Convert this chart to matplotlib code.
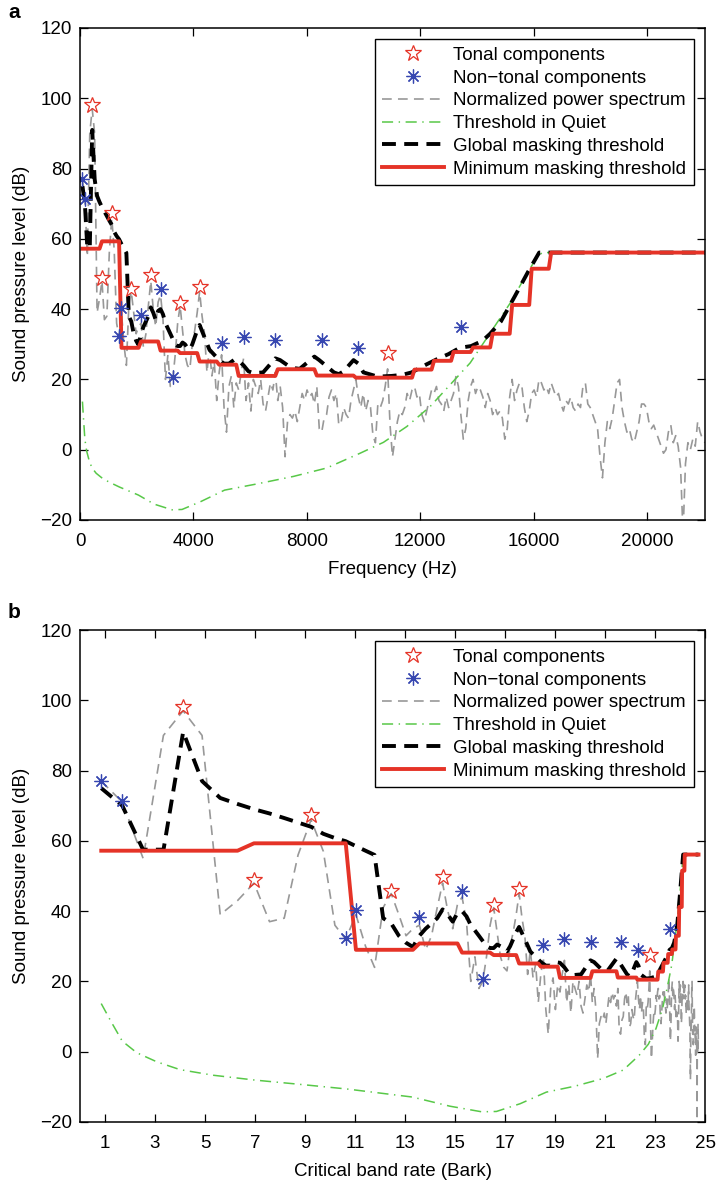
import numpy as np
import matplotlib
matplotlib.use('Agg')
import matplotlib.pyplot as plt
from matplotlib.lines import Line2D

plt.rcParams['font.family'] = ['Liberation Sans', 'DejaVu Sans']
plt.rcParams['font.size'] = 13.5
plt.rcParams['lines.scale_dashes'] = False

# normalized power spectrum (dB) for FFT bins 1..256 (512-pt FFT at 44.1 kHz)
spectrum_db = [
    77, 71, 55, 90, 97, 90, 39, 43, 48, 37, 38, 56, 66, 57, 36, 32,
    39, 30, 24, 41, 45, 39, 33, 35, 36, 29, 33, 41, 48, 40, 35, 42,
    44, 37, 20, 27, 18, 20, 27, 36, 41, 34, 27, 24, 23, 30, 34, 39,
    45, 38, 33, 22, 29, 21, 25, 14, 22, 27, 12, 5, 18, 21, 12, 19,
    17, 22, 26, 14, 19, 11, 20, 18, 16, 20, 13, 11, 15, 19, 17, 22,
    14, 18, 12, -2, 8, 10, 9, 11, 8, 12, 16, 14, 17, 15, 16, 13,
    18, 6, 5, 9, 10, 15, 17, 14, 16, 7, 8, 12, 10, 9, 14, 17,
    20, 15, 12, 16, 11, 14, 12, 4, 2, 13, 12, 14, 18, 23, 7, -2,
    3, 8, 11, 10, 12, 16, 14, 17, 18, 15, 16, 10, 8, 11, 14, 17,
    16, 18, 14, 13, 11, 15, 12, 14, 16, 21, 18, 10, 3, 6, 14, 18,
    20, 16, 18, 17, 15, 12, 16, 14, 10, 12, 10, 11, 9, 3, 6, 15,
    20, 14, 17, 19, 18, 12, 8, 11, 16, 17, 15, 20, 19, 17, 18, 16,
    19, 17, 15, 16, 13, 11, 14, 13, 15, 12, 11, 13, 12, 18, 19, 13,
    12, 10, 8, 6, -2, -8, 2, 8, 6, 9, 14, 19, 20, 12, 8, 5,
    6, 3, 2, 5, 8, 13, 13, 12, 8, 6, 7, 5, 3, 1, -1, 0,
    5, 7, 2, 4, 1, -5, -24, -4, 2, 0, 3, 1, 8, 5, 3, 2,
]
bin_hz = np.arange(1, len(spectrum_db) + 1) * 44100 / 512

tonal_hz = [431, 775, 1120, 1809, 2498, 3531, 4220, 10852]
tonal_db = [98, 49, 67.3, 45.7, 49.7, 41.8, 46.3, 27.6]

nontonal_hz = [86, 172, 1378, 1464, 2153, 2842, 3273, 4995, 5771, 6890, 8527, 9819, 13436]
nontonal_db = [77.1, 71.3, 32.3, 40.3, 38.3, 45.8, 20.6, 30.3, 32.1, 31.2, 31.1, 29.0, 34.8]

quiet_hz = [86, 129, 172, 232, 317, 417, 570, 785, 1025, 1386, 2060, 2620, 3250, 3600,
            4250, 5100, 6200, 7530, 8706, 9882, 10706, 11530, 12353, 13059, 13765,
            14470, 15176, 15647, 16059, 16300, 22050]
quiet_db = [13.7, 8.2, 3.0, -0.3, -2.9, -5.1, -6.7, -8.1, -9.2, -10.6, -12.9, -15.5, -17.1, -17.0,
            -14.8, -11.5, -9.8, -7.6, -5.2, -1.0, 2.1, 6.6, 12.3, 18.5, 24.7,
            33.2, 41.7, 48.4, 54.0, 56.1, 56.1]

global_hz = [86, 172, 258, 345, 431, 517, 603, 689, 775, 861, 947, 1034, 1120, 1206, 1292,
             1378, 1464, 1550, 1636, 1723, 1809, 1895, 1981, 2067, 2153, 2239, 2326, 2412,
             2498, 2584, 2670, 2756, 2842, 2929, 3015, 3101, 3187, 3273, 3359, 3445, 3531,
             3618, 3704, 3790, 3876, 3962, 4048, 4134, 4220, 4393, 4565, 4737, 4910, 5082,
             5254, 5426, 5599, 5771, 5943, 6115, 6460, 6890, 7060, 7400, 7580, 7750, 8270,
             8440, 8960, 9130, 9300, 9650, 9820, 10000, 10500, 11000, 11370, 11700, 12230,
             12580, 13000, 13400, 13800, 14200, 14470, 14850, 15350, 15800, 16200, 22050]
global_db = [75, 70, 57.5, 57.5, 91, 77, 72.2, 70.5, 69, 67.8, 66.5, 65.2, 64, 62, 60.8,
             59.9, 58.5, 57.2, 56, 38, 36.5, 33, 31, 29.8, 33, 35, 36.5, 38,
             40.5, 39, 37, 39.5, 40, 38.5, 36, 34.5, 33, 31.5, 30, 29.5, 29.5,
             30.5, 30, 29, 28.5, 30, 32, 34, 35.5, 32, 28.5, 27, 25.5, 24.5,
             24.5, 25.5, 25.3, 24, 22.3, 21.8, 22, 26, 25.5, 23.6, 23.2, 23.0, 26.5,
             25.5, 22, 21.5, 22.3, 25.5, 24.5, 22, 20.8, 21, 21.3, 22, 24.3,
             25.7, 27.2, 29, 29.5, 31, 33, 36.5, 43.8, 50.5, 56.1, 56.1]

# minimum masking threshold, one value per subband (32 subbands x 8 bins)
min_mask_db = [57.2, 59.3, 29.0, 30.8, 28.2, 27.5, 25.1, 24.2, 21.0, 21.0, 22.9, 22.9,
               21.1, 21.1, 20.5, 20.5, 20.5, 22.8, 25.3, 27.8, 29.1, 33.0, 41.2, 51.5,
               56.1, 56.1, 56.1, 56.1, 56.1, 56.1, 56.1, 56.1]
min_mask_bins = np.repeat(min_mask_db, 8)


def hz_to_bark(f):
    f = np.asarray(f, dtype=float)
    return 13 * np.arctan(0.00076 * f) + 3.5 * np.arctan((f / 7500.0) ** 2)


RED = '#e53327'
BLUE = '#3646b0'
GRAY = '#989898'
GREEN = '#58c848'


def draw(ax, conv):
    ax.plot(conv(bin_hz), spectrum_db, color=GRAY, lw=1.2, dashes=(7, 4.5))
    ax.plot(conv(quiet_hz), quiet_db, color=GREEN, lw=1.1, dashes=(8, 4, 1, 4))
    ax.plot(conv(global_hz), global_db, color='black', lw=2.8, dashes=(10, 6))
    ax.plot(conv(bin_hz), min_mask_bins, color=RED, lw=2.8)
    ax.plot(conv(tonal_hz), tonal_db, ls='none', marker='*', ms=12, mfc='none',
            mec=RED, mew=0.9)
    ax.plot(conv(nontonal_hz), nontonal_db, ls='none', marker=(8, 2, 0), ms=10,
            mec=BLUE, mew=0.9)
    ax.set_ylim(-20, 120)
    ax.set_yticks(np.arange(-20, 121, 20))
    ax.tick_params(direction='in', top=True, right=True, length=6, width=0.9)
    ax.tick_params(axis='x', pad=9)
    ax.tick_params(axis='y', pad=6)
    for s in ax.spines.values():
        s.set_linewidth(1.1)
    ax.set_ylabel('Sound pressure level (dB)', labelpad=7)

    handles = [
        Line2D([], [], ls='none', marker='*', ms=12, mfc='none', mec=RED, mew=0.9),
        Line2D([], [], ls='none', marker=(8, 2, 0), ms=10, mec=BLUE, mew=0.9),
        Line2D([], [], color=GRAY, lw=1.2, dashes=(7, 4.5)),
        Line2D([], [], color=GREEN, lw=1.1, dashes=(8, 4, 1, 4)),
        Line2D([], [], color='black', lw=2.8, dashes=(10, 6)),
        Line2D([], [], color=RED, lw=2.8),
    ]
    labels = ['Tonal components', 'Non\u2212tonal components', 'Normalized power spectrum',
              'Threshold in Quiet', 'Global masking threshold', 'Minimum masking threshold']
    leg = ax.legend(handles, labels, loc='upper right', fancybox=False, framealpha=1,
                    edgecolor='black', handlelength=3.3, handletextpad=0.5,
                    labelspacing=0.3, borderpad=0.4, borderaxespad=0.6, numpoints=1)
    leg.get_frame().set_linewidth(1.0)


fig = plt.figure(figsize=(7.17, 11.85), dpi=100)

ax1 = fig.add_axes([80 / 717, 1 - 520 / 1185, 625 / 717, 492 / 1185])
draw(ax1, lambda f: np.asarray(f, dtype=float))
ax1.set_xlim(0, 22050)
ax1.set_xticks([0, 4000, 8000, 12000, 16000, 20000])
ax1.set_xlabel('Frequency (Hz)', labelpad=8)

ax2 = fig.add_axes([80 / 717, 1 - 1122 / 1185, 625 / 717, 492 / 1185])
draw(ax2, hz_to_bark)
ax2.set_xlim(0, 25)
ax2.set_xticks(np.arange(1, 26, 2))
ax2.set_xlabel('Critical band rate (Bark)', labelpad=8)

fig.text(8 / 717, 1 - 12 / 1185, 'a', fontsize=15, fontweight='bold', va='center')
fig.text(8 / 717, 1 - 612 / 1185, 'b', fontsize=15, fontweight='bold', va='center')

fig.savefig('out.png', dpi=100)
